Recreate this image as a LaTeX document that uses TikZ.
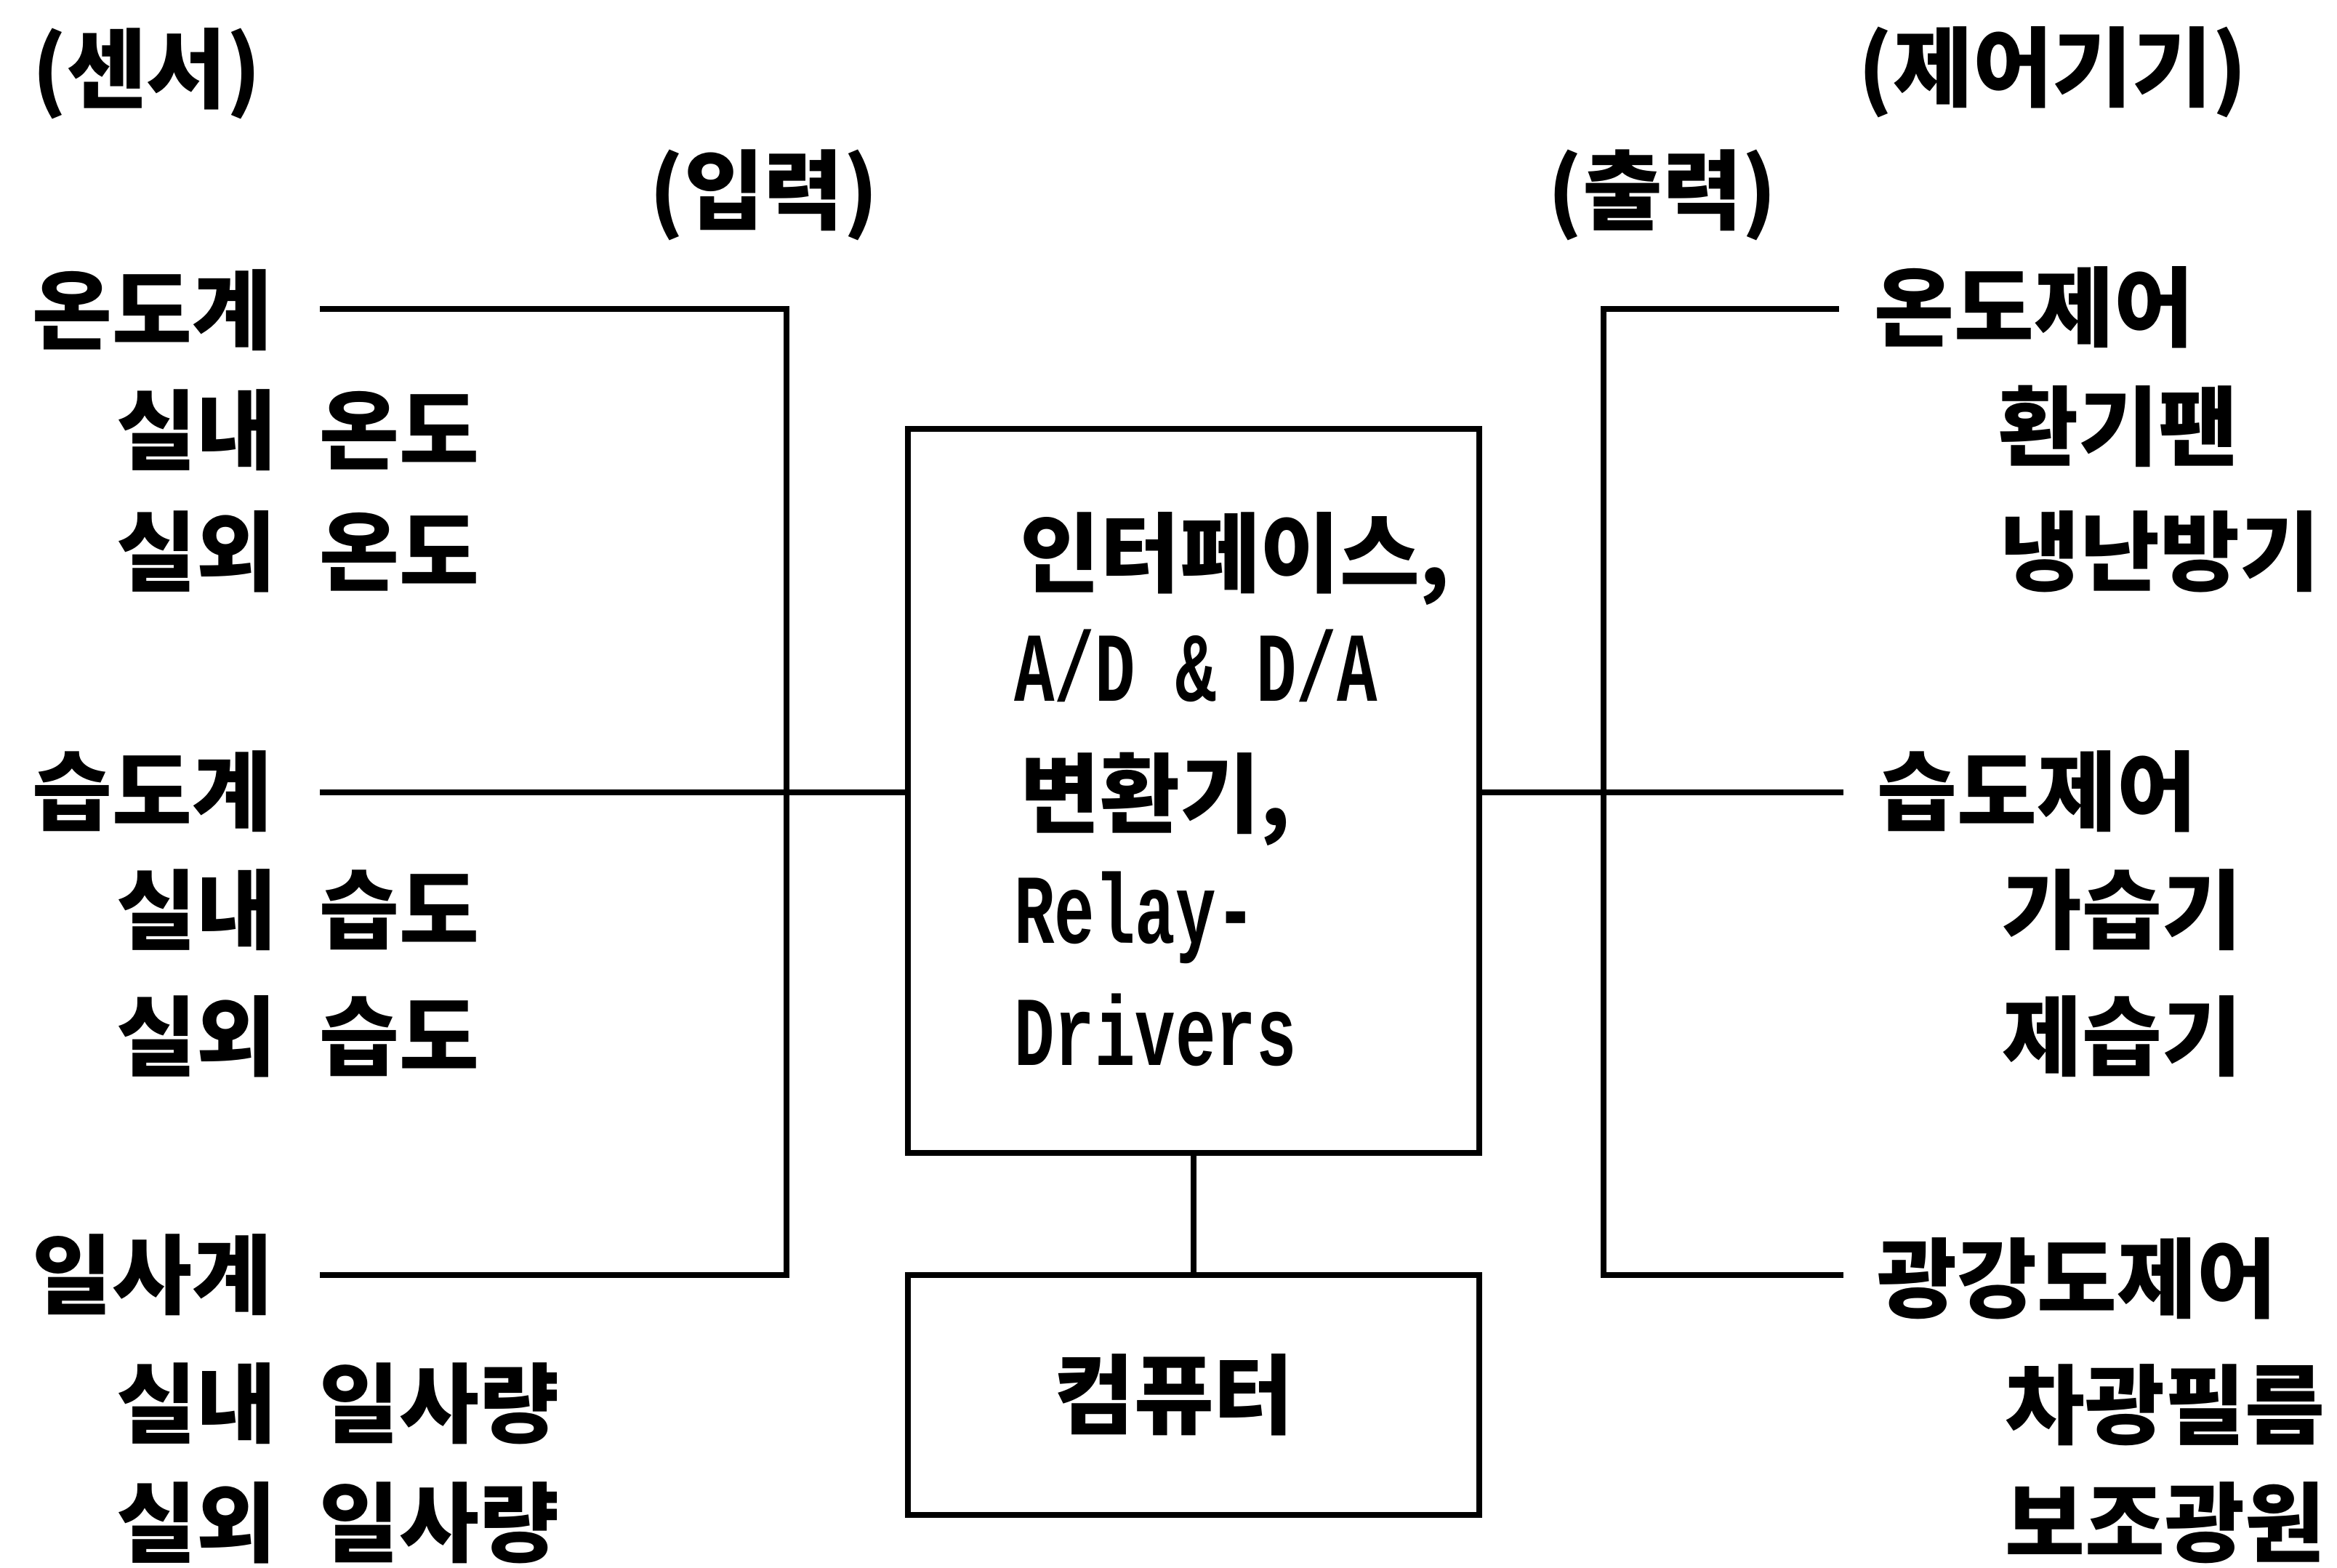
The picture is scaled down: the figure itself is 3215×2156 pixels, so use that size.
\documentclass[tikz,border=0pt]{standalone}
\usepackage{fontspec}
\newfontfamily\kr{Noto Sans CJK KR}
\newfontfamily\latmono[FakeStretch=0.68]{Liberation Mono Bold}
\newcommand\krf{\kr\bfseries\fontsize{34pt}{34pt}\selectfont}
\newcommand\monof{\latmono\fontsize{38.7pt}{38.7pt}\selectfont}
\newcommand\ws{\hspace{0.5em}}
\begin{document}
\begin{tikzpicture}[x=0.1mm,y=-0.1mm, line width=0.85mm,
  lbl/.style={font=\krf, anchor=base west, inner sep=0pt},
  mono/.style={font=\monof, anchor=base west, inner sep=0pt},
  boxn/.style={draw, line width=0.85mm, inner sep=0pt, minimum width=78.6mm}]
\fill[white] (0,0) rectangle (3215,2156);
\useasboundingbox (0,0) rectangle (3215,2156);

% headers
\node[lbl] (sensor) at (40,139) {(센서)};
\node[lbl] (input)  at (889,306) {(입력)};
\node[lbl] (ctrl)   at (2552,137) {(제어기기)};
\node[lbl] (output) at (2125,306) {(출력)};

% sensors
\node[lbl] (t1)  at (40,471)   {온도계};
\node[lbl] (t1a) at (156,636)  {실내\ws 온도};
\node[lbl] (t1b) at (156,803)  {실외\ws 온도};
\node[lbl] (t2)  at (40,1133)  {습도계};
\node[lbl] (t2a) at (156,1296) {실내\ws 습도};
\node[lbl] (t2b) at (156,1470) {실외\ws 습도};
\node[lbl] (t3)  at (40,1798)  {일사계};
\node[lbl] (t3a) at (156,1975) {실내\ws 일사량};
\node[lbl] (t3b) at (156,2139) {실외\ws 일사량};

% controllers
\node[lbl] (r1)  at (2574,467)  {온도제어};
\node[lbl] (r1a) at (2745,631)  {환기팬};
\node[lbl] (r1b) at (2747,803)  {냉난방기};
\node[lbl] (r2)  at (2578,1133) {습도제어};
\node[lbl] (r2a) at (2750,1296) {가습기};
\node[lbl] (r2b) at (2750,1470) {제습기};
\node[lbl] (r3)  at (2578,1803) {광강도제어};
\node[lbl] (r3a) at (2754,1977) {차광필름};
\node[lbl] (r3b) at (2754,2139) {보조광원};

% central boxes
\node[boxn, minimum height=99.6mm] (iface) at (1642,1088) {};
\node[lbl]  (i1) at (1399,805)  {인터페이스,};
\node[mono] (i2) at (1391,964)  {A/D \& D/A};
\node[lbl]  (i3) at (1399,1136) {변환기,};
\node[mono] (i4) at (1391,1297) {Relay-};
\node[mono] (i5) at (1391,1465) {Drivers};

\node[boxn, minimum height=33mm, font=\krf] (comp) at (1642,1919) {컴퓨터\kern5.4mm};

% connector end points
\coordinate (a1) at (440,425);
\coordinate (a2) at (440,1090);
\coordinate (a3) at (440,1754);
\coordinate (jL1) at (1082,425);
\coordinate (jL3) at (1082,1754);
\coordinate (b1) at (2530,425);
\coordinate (b2) at (2536,1090);
\coordinate (b3) at (2536,1754);
\coordinate (jR1) at (2206,425);
\coordinate (jR3) at (2206,1754);

\draw (a1) -- (jL1) -- (jL3) -- (a3);
\draw (a2) -- (a2 -| iface.west);
\draw (b1) -- (jR1) -- (jR3) -- (b3);
\draw (iface.east |- b2) -- (b2);
\draw (iface.south) -- (comp.north);
\end{tikzpicture}
\end{document}
